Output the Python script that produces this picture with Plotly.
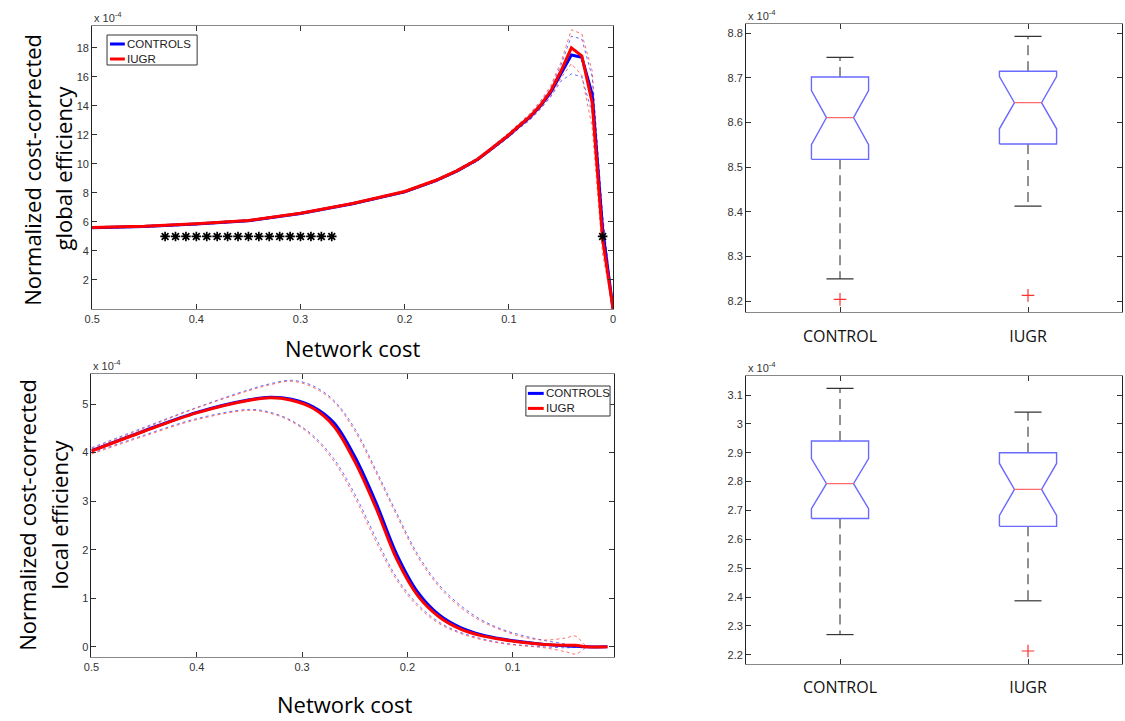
import plotly.graph_objects as go

# ---------------- Global efficiency vs network cost (values in units of 1e-4)
cost_g = [0.5, 0.45, 0.4, 0.35, 0.3, 0.25, 0.2, 0.17, 0.15, 0.13, 0.12, 0.11, 0.1, 0.09, 0.08, 0.07,
          0.06, 0.05, 0.04, 0.03, 0.02, 0.01, 0.0]
ctrl_g = [5.6, 5.68, 5.85, 6.08, 6.58, 7.25, 8.07, 8.85, 9.5, 10.3, 10.85, 11.4, 11.97, 12.6, 13.2, 13.97,
          14.9, 16.2, 17.5, 17.35, 14.8, 5.5, 0.0]
iugr_g = [5.62, 5.7, 5.87, 6.1, 6.6, 7.27, 8.1, 8.87, 9.52, 10.32, 10.87, 11.43, 12.0, 12.63, 13.25, 14.02,
          15.0, 16.4, 18.0, 17.45, 14.2, 4.8, 0.0]
ctrl_g_hi = [5.65, 5.73, 5.9, 6.13, 6.63, 7.3, 8.12, 8.92, 9.58, 10.4, 10.95, 11.52, 12.1, 12.75, 13.4, 14.2,
             15.2, 16.8, 18.8, 18.6, 16.0, 6.5, 0.1]
ctrl_g_lo = [5.55, 5.63, 5.8, 6.03, 6.53, 7.2, 8.0, 8.78, 9.42, 10.2, 10.75, 11.28, 11.85, 12.45, 13.0, 13.75,
             14.6, 15.7, 16.2, 16.0, 13.5, 4.6, 0.0]
iugr_g_hi = [5.67, 5.75, 5.92, 6.15, 6.65, 7.32, 8.15, 8.94, 9.6, 10.42, 10.97, 11.55, 12.15, 12.8, 13.45, 14.3,
             15.35, 17.0, 19.24, 18.96, 16.4, 6.0, 0.1]
iugr_g_lo = [5.57, 5.65, 5.82, 6.05, 6.55, 7.22, 8.05, 8.8, 9.44, 10.22, 10.77, 11.3, 11.85, 12.47, 13.05, 13.8,
             14.65, 15.9, 16.9, 16.1, 12.5, 3.8, 0.0]
sig_costs = [0.43, 0.42, 0.41, 0.40, 0.39, 0.38, 0.37, 0.36, 0.35, 0.34, 0.33, 0.32, 0.31, 0.30,
             0.29, 0.28, 0.27, 0.01]
sig_level = 5.0

# ---------------- Local efficiency vs network cost (values in units of 1e-4)
cost_l = [0.5, 0.45, 0.4, 0.35, 0.33, 0.31, 0.29, 0.27, 0.25, 0.23, 0.21, 0.19, 0.17, 0.15, 0.13,
          0.11, 0.09, 0.07, 0.05, 0.04, 0.03, 0.01]
ctrl_l = [4.04, 4.45, 4.83, 5.09, 5.14, 5.1, 4.95, 4.62, 3.92, 2.98, 1.9, 1.12, 0.66, 0.4, 0.25,
          0.16, 0.1, 0.05, 0.02, 0.01, 0.0, 0.0]
iugr_l = [4.03, 4.44, 4.82, 5.08, 5.13, 5.08, 4.92, 4.55, 3.82, 2.87, 1.8, 1.05, 0.62, 0.37, 0.23,
          0.15, 0.09, 0.05, 0.03, 0.03, 0.0, 0.0]
ctrl_l_hi = [4.1, 4.52, 4.93, 5.3, 5.42, 5.49, 5.38, 5.08, 4.5, 3.65, 2.75, 1.9, 1.28, 0.86, 0.56,
             0.36, 0.23, 0.13, 0.06, 0.03, 0.01, 0.0]
iugr_l_hi = [4.08, 4.5, 4.92, 5.28, 5.4, 5.47, 5.35, 5.05, 4.45, 3.6, 2.7, 1.85, 1.24, 0.82, 0.53,
             0.34, 0.2, 0.14, 0.18, 0.22, 0.02, 0.0]
ctrl_l_lo = [3.99, 4.36, 4.7, 4.89, 4.83, 4.66, 4.36, 3.88, 3.15, 2.25, 1.42, 0.87, 0.51, 0.3, 0.17,
             0.08, 0.03, 0.0, -0.02, -0.01, 0.0, 0.0]
iugr_l_lo = [3.97, 4.34, 4.68, 4.87, 4.81, 4.64, 4.33, 3.83, 3.08, 2.18, 1.37, 0.83, 0.48, 0.28, 0.15,
             0.07, 0.02, -0.02, -0.1, -0.15, -0.02, 0.0]

# ---------------- Box plot statistics (units of 1e-4)
groups = ["CONTROL", "IUGR"]
g_whisk_lo = [8.250, 8.413]
g_q1 = [8.5175, 8.552]
g_med = [8.611, 8.6445]
g_q3 = [8.702, 8.715]
g_whisk_hi = [8.746, 8.793]
g_notch = [0.0605, 0.0585]
g_outliers = [[8.204], [8.213]]

l_whisk_lo = [2.270, 2.387]
l_q1 = [2.672, 2.645]
l_med = [2.793, 2.773]
l_q3 = [2.941, 2.900]
l_whisk_hi = [3.123, 3.041]
l_notch = [0.087, 0.090]
l_outliers = [[], [2.213]]

# tick labels
g_ytick_vals = [2, 4, 6, 8, 10, 12, 14, 16, 18]
l_ytick_vals = [0, 1, 2, 3, 4, 5]
cost_tick_vals = [0.5, 0.4, 0.3, 0.2, 0.1, 0.0]
cost_tick_text = ["0.5", "0.4", "0.3", "0.2", "0.1", "0"]
bg_tick_vals = [8.2, 8.3, 8.4, 8.5, 8.6, 8.7, 8.8]
bg_tick_text = ["8.2", "8.3", "8.4", "8.5", "8.6", "8.7", "8.8"]
bl_tick_vals = [2.2, 2.3, 2.4, 2.5, 2.6, 2.7, 2.8, 2.9, 3.0, 3.1]
bl_tick_text = ["2.2", "2.3", "2.4", "2.5", "2.6", "2.7", "2.8", "2.9", "3", "3.1"]
series_names = ["CONTROLS", "IUGR"]

BLUE = "#0000ff"
RED = "#ff0000"
BAND_BLUE = "rgba(60,60,255,0.75)"
BAND_RED = "rgba(255,60,60,0.75)"
TICK_FONT = dict(family="Liberation Sans, Arial", size=11, color="#333333")
LABEL_FONT = dict(family="Open Sans, Noto Sans", size=22, color="#000000")
CAT_FONT = dict(family="Open Sans, Noto Sans", size=16, color="#111111")
LEG_FONT = dict(family="Liberation Sans, Arial", size=11.5, color="#222222")

W, H = 1125, 721


def px_x(v):
    return v / W


def px_y(v):
    return 1 - v / H


fig = go.Figure()


def add_curves(xa, ya, cost, c_mean, i_mean, c_hi, c_lo, i_hi, i_lo, shape):
    for ys, col in [(c_hi, BAND_BLUE), (c_lo, BAND_BLUE), (i_hi, BAND_RED), (i_lo, BAND_RED)]:
        fig.add_trace(go.Scatter(x=cost, y=ys, mode="lines", xaxis=xa, yaxis=ya, showlegend=False,
                                 line=dict(color=col, width=1, dash="dot", shape=shape), hoverinfo="skip"))
    fig.add_trace(go.Scatter(x=cost, y=c_mean, mode="lines", name=series_names[0], xaxis=xa, yaxis=ya,
                             showlegend=False, line=dict(color=BLUE, width=3, shape=shape)))
    fig.add_trace(go.Scatter(x=cost, y=i_mean, mode="lines", name=series_names[1], xaxis=xa, yaxis=ya,
                             showlegend=False, line=dict(color=RED, width=3, shape=shape)))


add_curves("x", "y", cost_g, ctrl_g, iugr_g, ctrl_g_hi, ctrl_g_lo, iugr_g_hi, iugr_g_lo, "linear")
fig.add_trace(go.Scatter(x=sig_costs, y=[sig_level] * len(sig_costs), mode="markers", xaxis="x", yaxis="y",
                         showlegend=False,
                         marker=dict(symbol="asterisk-open", size=8, color="black",
                                     line=dict(color="black", width=1.7))))
add_curves("x2", "y2", cost_l, ctrl_l, iugr_l, ctrl_l_hi, ctrl_l_lo, iugr_l_hi, iugr_l_lo, "spline")

BOX_HALF = 0.152
NOTCH_HALF = 0.072


def add_boxes(xa, ya, wlo, q1, med, q3, whi, notch, outliers):
    for i, g in enumerate(groups):
        p = i + 1
        w, wn = BOX_HALF, NOTCH_HALF
        fig.add_trace(go.Scatter(x=[p, p, None, p, p], y=[q3[i], whi[i], None, q1[i], wlo[i]],
                                 mode="lines", xaxis=xa, yaxis=ya, showlegend=False, hoverinfo="skip",
                                 line=dict(color="#555555", width=1.3, dash="10px,6px")))
        fig.add_trace(go.Scatter(x=[p - wn, p + wn, None, p - wn, p + wn], y=[whi[i], whi[i], None, wlo[i], wlo[i]],
                                 mode="lines", xaxis=xa, yaxis=ya, showlegend=False, hoverinfo="skip",
                                 line=dict(color="#333333", width=1.2)))
        xs = [p - w, p - w, p - wn, p - w, p - w, p + w, p + w, p + wn, p + w, p + w, p - w]
        ys = [q1[i], med[i] - notch[i], med[i], med[i] + notch[i], q3[i], q3[i],
              med[i] + notch[i], med[i], med[i] - notch[i], q1[i], q1[i]]
        fig.add_trace(go.Scatter(x=xs, y=ys, mode="lines", xaxis=xa, yaxis=ya, showlegend=False,
                                 hoverinfo="skip", fill="toself", fillcolor="white",
                                 line=dict(color="#6a6aff", width=1.4)))
        fig.add_trace(go.Scatter(x=[p - wn, p + wn], y=[med[i], med[i]], mode="lines", xaxis=xa, yaxis=ya,
                                 showlegend=False, hoverinfo="skip", line=dict(color="#ff6a6a", width=1.4)))
        if outliers[i]:
            fig.add_trace(go.Scatter(x=[p] * len(outliers[i]), y=outliers[i], mode="markers", xaxis=xa, yaxis=ya,
                                     showlegend=False,
                                     marker=dict(symbol="cross-thin", size=9, color="#ff3030",
                                                 line=dict(color="#ff3030", width=1.2))))


add_boxes("x3", "y3", g_whisk_lo, g_q1, g_med, g_q3, g_whisk_hi, g_notch, g_outliers)
add_boxes("x4", "y4", l_whisk_lo, l_q1, l_med, l_q3, l_whisk_hi, l_notch, l_outliers)

axis_common = dict(showgrid=False, zeroline=False, showline=True, mirror="ticks", ticks="inside",
                   ticklen=5, tickcolor="#333333", tickfont=TICK_FONT)

fig.update_layout(
    width=W, height=H, margin=dict(l=0, r=0, t=0, b=0),
    paper_bgcolor="white", plot_bgcolor="white", showlegend=False,
    xaxis=dict(domain=[px_x(85), px_x(611)], range=[0.5, 0.0], anchor="y",
               tickvals=cost_tick_vals, ticktext=cost_tick_text, linecolor="#888888", **axis_common),
    yaxis=dict(domain=[px_y(309), px_y(26)], range=[0, 19.5], anchor="x",
               tickvals=g_ytick_vals, linecolor="#222222", **axis_common),
    xaxis2=dict(domain=[px_x(84.3), px_x(611.7)], range=[0.5, 0.004], anchor="y2",
                tickvals=cost_tick_vals, ticktext=cost_tick_text, linecolor="#888888", **axis_common),
    yaxis2=dict(domain=[px_y(657), px_y(374)], range=[-0.21, 5.62], anchor="x2",
                tickvals=l_ytick_vals, linecolor="#222222", **axis_common),
    xaxis3=dict(domain=[px_x(745.3), 1.0], range=[0.5, 2.5], anchor="y3",
                tickvals=[1, 2], ticktext=groups, linecolor="#888888", ticklabelstandoff=9,
                **{**axis_common, "tickfont": CAT_FONT}),
    yaxis3=dict(domain=[px_y(312.3), px_y(24.3)], range=[8.175, 8.82], anchor="x3",
                tickvals=bg_tick_vals, ticktext=bg_tick_text, linecolor="#222222", **axis_common),
    xaxis4=dict(domain=[px_x(745.3), 1.0], range=[0.5, 2.5], anchor="y4",
                tickvals=[1, 2], ticktext=groups, linecolor="#888888", ticklabelstandoff=9,
                **{**axis_common, "tickfont": CAT_FONT}),
    yaxis4=dict(domain=[px_y(664), px_y(376.3)], range=[2.168, 3.165], anchor="x4",
                tickvals=bl_tick_vals, ticktext=bl_tick_text, linecolor="#222222", **axis_common),
)

# legend boxes drawn in the MATLAB style (box, short line sample, label)
shapes = []
annots = []
for (x0, y0, x1, y1, lx0, lx1, ly) in [(100, 35, 191, 65, 103, 118, (44, 59)),
                                       (523, 386, 608, 416, 525, 541, (393.4, 408.4))]:
    shapes.append(dict(type="rect", xref="paper", yref="paper", x0=px_x(x0), x1=px_x(x1),
                       y0=px_y(y1), y1=px_y(y0), line=dict(color="#333333", width=1), fillcolor="white",
                       layer="above"))
    for k, col in enumerate([BLUE, RED]):
        shapes.append(dict(type="line", xref="paper", yref="paper", x0=px_x(lx0), x1=px_x(lx1),
                           y0=px_y(ly[k]), y1=px_y(ly[k]), line=dict(color=col, width=3), layer="above"))
        annots.append(dict(x=px_x(lx1), y=px_y(ly[k]), xref="paper", yref="paper", xanchor="left",
                           yanchor="middle", text=series_names[k], showarrow=False, font=LEG_FONT))

for xp, yp in [(85, 26), (84.3, 374), (745.3, 24.3), (745.3, 376.3)]:
    annots.append(dict(x=px_x(xp), y=px_y(yp), xref="paper", yref="paper", xanchor="left", yanchor="bottom",
                       text="x 10<sup>-4</sup>", showarrow=False, font=TICK_FONT))

titles = [
    dict(x=px_x(24), y=px_y(170), text="Normalized cost-corrected", textangle=-90),
    dict(x=px_x(56), y=px_y(168), text="global efficiency", textangle=-90),
    dict(x=px_x(348), y=px_y(348), text="Network cost"),
    dict(x=px_x(19), y=px_y(515), text="Normalized cost-corrected", textangle=-90),
    dict(x=px_x(51), y=px_y(515), text="local efficiency", textangle=-90),
    dict(x=px_x(340), y=px_y(704), text="Network cost"),
]
for a in titles:
    a.update(xref="paper", yref="paper", xanchor="center", yanchor="middle", showarrow=False, font=LABEL_FONT)
annots += titles
fig.update_layout(annotations=annots, shapes=shapes)

fig.write_html("out.html", config={"displayModeBar": False},
               post_script="document.body.style.margin='0';document.body.style.overflow='hidden';")
